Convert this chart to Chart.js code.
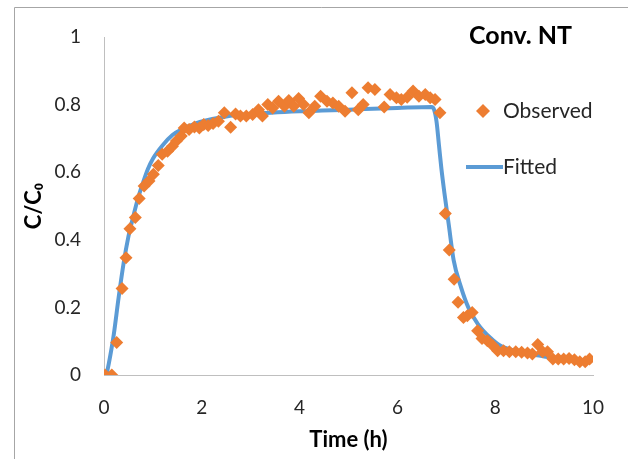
<!DOCTYPE html>
<html>
<head>
<meta charset="utf-8">
<script src="https://cdn.jsdelivr.net/npm/chart.js@4/dist/chart.umd.min.js"></script>
<style>
  html, body { margin: 0; padding: 0; background: #fff; }
  #wrap { position: relative; width: 628px; height: 459px; }
</style>
</head>
<body>
<div id="wrap"><canvas id="c" width="628" height="459"></canvas></div>
<script>
const chartTitle = "Conv. NT";
const xAxisTitle = "Time (h)";
const yAxisTitle = "C/C\u2080";
const seriesNames = ["Observed", "Fitted"];

const xTicks = [0, 2, 4, 6, 8, 10];
const yTicks = [0, 0.2, 0.4, 0.6, 0.8, 1];

const observedTime = [0.02,0.16,0.26,0.37,0.45,0.53,0.64,0.72,0.82,0.92,1.01,1.11,1.19,1.30,1.40,1.48,1.58,1.64,1.74,1.85,1.95,2.04,2.13,2.23,2.34,2.46,2.59,2.69,2.79,2.91,3.04,3.16,3.24,3.35,3.45,3.57,3.69,3.78,3.88,3.98,4.08,4.19,4.31,4.43,4.56,4.68,4.80,4.93,5.07,5.20,5.30,5.40,5.54,5.73,5.85,5.98,6.08,6.20,6.32,6.44,6.57,6.67,6.77,6.87,6.98,7.06,7.16,7.24,7.35,7.43,7.53,7.64,7.73,7.84,7.95,8.05,8.17,8.29,8.42,8.54,8.66,8.76,8.87,8.97,9.07,9.18,9.29,9.40,9.51,9.62,9.73,9.84,9.93];
const observedC = [0,0,0.096,0.256,0.347,0.433,0.466,0.522,0.559,0.574,0.594,0.62,0.653,0.662,0.677,0.692,0.707,0.731,0.726,0.734,0.731,0.741,0.738,0.744,0.751,0.776,0.733,0.772,0.766,0.766,0.771,0.785,0.766,0.80,0.79,0.81,0.795,0.812,0.795,0.818,0.80,0.776,0.795,0.825,0.81,0.805,0.795,0.78,0.835,0.785,0.80,0.85,0.845,0.793,0.83,0.82,0.815,0.822,0.84,0.825,0.83,0.82,0.815,0.776,0.478,0.37,0.283,0.215,0.17,0.175,0.185,0.131,0.108,0.101,0.087,0.072,0.072,0.069,0.069,0.067,0.065,0.062,0.09,0.069,0.069,0.047,0.047,0.047,0.049,0.045,0.039,0.039,0.047];

const fittedTime = [0.05,0.1,0.15,0.2,0.3,0.4,0.5,0.6,0.7,0.8,0.9,1.0,1.2,1.4,1.6,1.8,2.0,2.5,3.0,4.0,5.0,6.0,6.7,6.75,6.8,6.85,6.9,6.96,7.05,7.15,7.3,7.45,7.65,7.9,8.1,8.5,9.0,9.5,9.9];
const fittedC = [0,0.035,0.075,0.12,0.23,0.33,0.41,0.47,0.525,0.57,0.61,0.64,0.68,0.71,0.728,0.74,0.75,0.765,0.772,0.78,0.785,0.79,0.793,0.785,0.75,0.68,0.61,0.54,0.445,0.34,0.26,0.2,0.15,0.11,0.087,0.068,0.055,0.045,0.04];

const FONT = "Lato, 'DejaVu Sans', sans-serif";
const ORANGE = '#ED7D31';
const BLUE = '#5B9BD5';

const frame = {
  id: 'frame',
  beforeDraw(chart) {
    const ctx = chart.ctx;
    ctx.save();
    ctx.strokeStyle = '#a6a6a6';
    ctx.lineWidth = 1;
    ctx.beginPath();
    ctx.moveTo(14.5, 459);
    ctx.lineTo(14.5, 7.5);
    ctx.lineTo(628, 7.5);
    ctx.stroke();
    ctx.restore();
  }
};

const overlay = {
  id: 'overlay',
  afterDraw(chart) {
    const ctx = chart.ctx;
    ctx.save();
    // title
    ctx.fillStyle = '#000';
    ctx.font = "bold 25px " + FONT;
    ctx.textAlign = 'left';
    ctx.textBaseline = 'middle';
    ctx.fillText(chartTitle, 469, 36);
    // legend: Observed
    const ds0 = chart.data.datasets[0];
    ctx.fillStyle = ds0.backgroundColor;
    const mx = 483, my = 111, r = 7;
    ctx.beginPath();
    ctx.moveTo(mx - r, my); ctx.lineTo(mx, my - r); ctx.lineTo(mx + r, my); ctx.lineTo(mx, my + r);
    ctx.closePath(); ctx.fill();
    ctx.fillStyle = '#262626';
    ctx.font = "21px " + FONT;
    ctx.fillText(ds0.label, 503, 111);
    // legend: Fitted
    const ds1 = chart.data.datasets[1];
    ctx.strokeStyle = ds1.borderColor;
    ctx.lineWidth = ds1.borderWidth;
    ctx.beginPath(); ctx.moveTo(466, 167); ctx.lineTo(503, 167); ctx.stroke();
    ctx.fillText(ds1.label, 503, 167);
    ctx.restore();
  }
};

new Chart(document.getElementById('c'), {
  type: 'scatter',
  data: {
    datasets: [
      {
        label: seriesNames[0],
        data: observedTime.map((t, i) => ({x: t, y: observedC[i]})),
        backgroundColor: ORANGE,
        borderColor: ORANGE,
        borderWidth: 0,
        pointStyle: 'rectRot',
        pointRadius: 6.5,
        order: 1
      },
      {
        label: seriesNames[1],
        data: fittedTime.map((t, i) => ({x: t, y: fittedC[i]})),
        showLine: true,
        borderColor: BLUE,
        backgroundColor: BLUE,
        borderWidth: 4,
        pointRadius: 0,
        cubicInterpolationMode: 'monotone',
        order: 2
      }
    ]
  },
  options: {
    responsive: false,
    animation: false,
    events: [],
    layout: { padding: { top: 37, right: 35, bottom: 0, left: 0 } },
    plugins: { legend: { display: false }, tooltip: { enabled: false }, title: { display: false } },
    scales: {
      x: {
        type: 'linear', min: 0, max: 10,
        afterBuildTicks: (s) => { s.ticks = xTicks.map(v => ({value: v})); },
        afterFit: (s) => { s.height = 84; },
        grid: { display: false, drawTicks: false },
        border: { display: true, color: '#bfbfbf', width: 1 },
        ticks: { color: '#262626', font: { family: FONT, size: 19 }, padding: 21, maxRotation: 0 },
        title: { display: true, text: xAxisTitle, color: '#000', font: { family: FONT, size: 22, weight: 'bold' }, padding: { top: 0, bottom: 6 } }
      },
      y: {
        type: 'linear', min: 0, max: 1,
        afterBuildTicks: (s) => { s.ticks = yTicks.map(v => ({value: v})); },
        afterFit: (s) => { s.width = 104; },
        grid: { display: false, drawTicks: false },
        border: { display: true, color: '#bfbfbf', width: 1 },
        ticks: { color: '#262626', font: { family: FONT, size: 19 }, padding: 23, callback: (v) => String(v) },
        title: { display: true, text: yAxisTitle, color: '#000', font: { family: FONT, size: 22, weight: 'bold' }, padding: { top: 21, bottom: 0 } }
      }
    }
  },
  plugins: [frame, overlay]
});
</script>
</body>
</html>
